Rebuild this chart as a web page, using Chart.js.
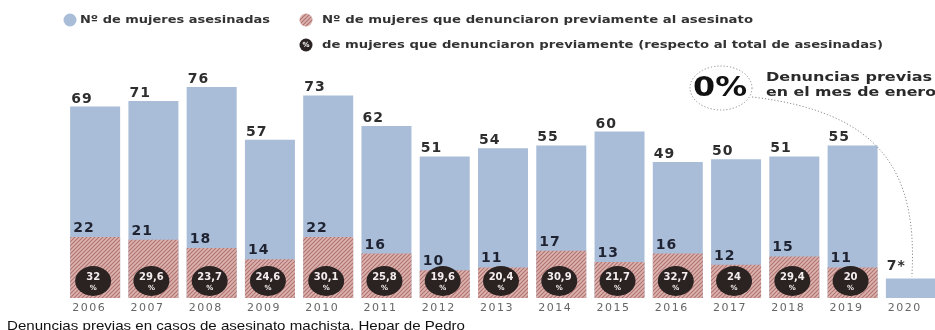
<!DOCTYPE html>
<html><head><meta charset="utf-8">
<script src="https://cdn.jsdelivr.net/npm/chart.js@4"></script>
<style>
html,body{margin:0;padding:0;background:#fff;overflow:hidden}
#wrap{position:relative;width:941px;height:330px}
</style></head>
<body><div id="wrap"><canvas id="c"></canvas></div>
<script>
// ---- data ----
const years = ['2006','2007','2008','2009','2010','2011','2012','2013','2014','2015','2016','2017','2018','2019','2020'];
const asesinadas = [69,71,76,57,73,62,51,54,55,60,49,50,51,55,7];
const denunciaron = [22,21,18,14,22,16,10,11,17,13,16,12,15,11,0];
const porcentaje = ['32','29,6','23,7','24,6','30,1','25,8','19,6','20,4','30,9','21,7','32,7','24','29,4','20',null];
const totalLabels = ['69','71','76','57','73','62','51','54','55','60','49','50','51','55','7*'];
const legendLabels = ['Nº de mujeres asesinadas','Nº de mujeres que denunciaron previamente al asesinato','de mujeres que denunciaron previamente (respecto al total de asesinadas)'];
const noteBig = '0%';
const noteLines = ['Denuncias previas','en el mes de enero'];
const caption = 'Denuncias previas en casos de asesinato machista. Hepar de Pedro';

const BLUE = '#a9bdd8';
const DARK = '#2b2222';
const canvas = document.getElementById('c');
const mainCtx = canvas.getContext('2d');

function makeHatch(){
  const c = document.createElement('canvas'); c.width = 4; c.height = 4;
  const g = c.getContext('2d');
  g.fillStyle = '#dbb3b0'; g.fillRect(0,0,4,4);
  g.strokeStyle = '#b0726d'; g.lineWidth = 1.1;
  g.beginPath();
  g.moveTo(0,4); g.lineTo(4,0);
  g.moveTo(-1,1); g.lineTo(1,-1);
  g.moveTo(3,5); g.lineTo(5,3);
  g.stroke();
  return mainCtx.createPattern(c,'repeat');
}
const HATCH = makeHatch();

function fitText(ctx, text, x, y, w, font, color, align, baseline){
  ctx.save();
  ctx.font = font; ctx.fillStyle = color; ctx.textAlign = 'left'; ctx.textBaseline = baseline || 'middle';
  const m = ctx.measureText(text).width;
  const s = w / m;
  const x0 = align === 'center' ? x - w/2 : x;
  ctx.translate(x0, y); ctx.scale(s, 1);
  ctx.fillText(text, 0, 0);
  ctx.restore();
}

const overlay = {
  id: 'overlay',
  beforeDraw(chart){ chart.ctx.letterSpacing = '1.5px'; },
  beforeDatasetsDraw(chart){ chart.ctx.letterSpacing = '0px'; },
  afterDatasetsDraw(chart){
    const ctx = chart.ctx;
    const blueMeta = chart.getDatasetMeta(1);
    const redMeta = chart.getDatasetMeta(0);
    ctx.save();
    blueMeta.data.forEach((bar, i) => {
      const left = bar.x - bar.width/2;
      // total labels
      ctx.save();
      ctx.letterSpacing = '1px';
      ctx.font = '600 14px "DejaVu Sans"';
      ctx.fillStyle = '#2e2e2e';
      ctx.textAlign = 'left'; ctx.textBaseline = 'alphabetic';
      const off = asesinadas[i] < 10 ? 9 : 4;
      ctx.fillText(totalLabels[i], left + 1, bar.y - off);
      ctx.restore();
      // red labels
      if (porcentaje[i] !== null) {
        const rb = redMeta.data[i];
        ctx.save();
        ctx.letterSpacing = '1px';
        ctx.font = 'bold 14px "DejaVu Sans"';
        ctx.fillStyle = '#1f2331';
        ctx.textAlign = 'left'; ctx.textBaseline = 'alphabetic';
        ctx.fillText(String(denunciaron[i]), left + 3, rb.y - 5);
        ctx.restore();
        // circle
        const cx = bar.x - 2, cy = 281;
        ctx.beginPath();
        ctx.ellipse(cx, cy, 18, 15, 0, 0, Math.PI*2);
        ctx.fillStyle = DARK; ctx.fill();
        ctx.fillStyle = '#f4eeee';
        ctx.textAlign = 'center'; ctx.textBaseline = 'middle';
        ctx.font = 'bold 10px "DejaVu Sans"';
        ctx.fillText(porcentaje[i], cx, cy - 4);
        ctx.font = 'bold 7px "DejaVu Sans"';
        ctx.fillText('%', cx, cy + 7);
      }
    });
    ctx.restore();
  },
  afterDraw(chart){
    const ctx = chart.ctx;
    ctx.save();
    // legend
    ctx.beginPath(); ctx.arc(70, 20, 6.5, 0, Math.PI*2); ctx.fillStyle = BLUE; ctx.fill();
    fitText(ctx, legendLabels[0], 80, 20, 190, '600 11px "DejaVu Sans"', '#333', 'left');
    ctx.beginPath(); ctx.arc(306, 20, 6.5, 0, Math.PI*2); ctx.fillStyle = HATCH; ctx.fill();
    fitText(ctx, legendLabels[1], 322, 20, 431, '600 11px "DejaVu Sans"', '#333', 'left');
    ctx.beginPath(); ctx.arc(306, 45, 6.5, 0, Math.PI*2); ctx.fillStyle = DARK; ctx.fill();
    ctx.fillStyle = '#fff'; ctx.font = 'bold 7px "DejaVu Sans"'; ctx.textAlign = 'center'; ctx.textBaseline = 'middle';
    ctx.fillText('%', 306, 45.5);
    fitText(ctx, legendLabels[2], 322, 45, 561, '600 11px "DejaVu Sans"', '#333', 'left');

    // annotation
    const x2020 = chart.getDatasetMeta(1).data[14];
    ctx.setLineDash([1.2, 2]);
    ctx.strokeStyle = '#8a8a8a'; ctx.lineWidth = 1;
    ctx.beginPath(); ctx.ellipse(721, 88, 31, 22, 0, 0, Math.PI*2); ctx.stroke();
    ctx.beginPath();
    ctx.moveTo(752, 97);
    ctx.bezierCurveTo(880, 112, 918, 170, x2020.x + 1, x2020.y - 2);
    ctx.stroke();
    ctx.setLineDash([]);
    fitText(ctx, noteBig, 720, 89, 54, 'bold 27px "DejaVu Sans"', '#111', 'center');
    fitText(ctx, noteLines[0], 766, 78, 166, 'bold 12px "DejaVu Sans"', '#2a2a2a', 'left');
    fitText(ctx, noteLines[1], 766, 93, 170, 'bold 12px "DejaVu Sans"', '#2a2a2a', 'left');

    // caption
    fitText(ctx, caption, 7, 320, 458, '13px "Liberation Sans"', '#111', 'left', 'top');
    ctx.restore();
  }
};

new Chart(canvas, {
  type: 'bar',
  data: {
    labels: years,
    datasets: [
      { label: legendLabels[1], data: denunciaron, backgroundColor: HATCH, order: 0 },
      { label: legendLabels[0], data: asesinadas, backgroundColor: BLUE, order: 1 }
    ]
  },
  options: {
    responsive: true,
    maintainAspectRatio: false,
    animation: false,
    devicePixelRatio: 1,
    layout: { padding: { top: 76, left: 66, right: 1, bottom: 0 } },
    datasets: { bar: { grouped: false, categoryPercentage: 1, barPercentage: 0.858 } },
    plugins: { legend: { display: false }, tooltip: { enabled: false } },
    scales: {
      x: {
        grid: { display: false, drawTicks: false },
        border: { display: false },
        ticks: { color: '#666', font: { family: 'DejaVu Sans', size: 11 }, padding: 4, labelOffset: -6, maxRotation: 0, autoSkip: false },
        afterFit: (s) => { s.height = 32; }
      },
      y: { display: false, min: 0, max: 80 }
    }
  },
  plugins: [overlay]
});
</script>
</body></html>
